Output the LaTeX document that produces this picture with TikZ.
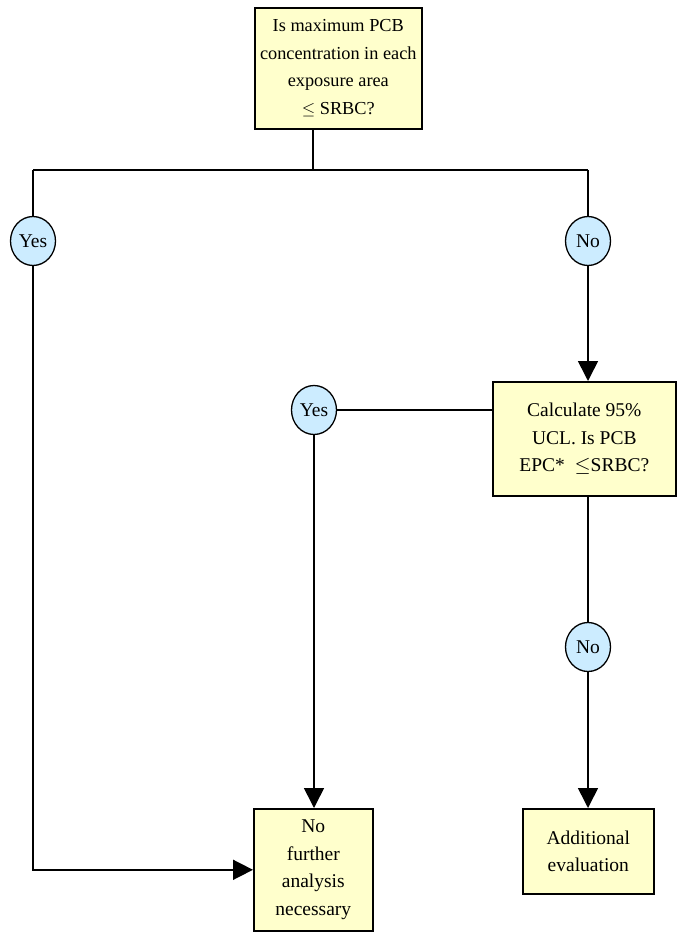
\documentclass[tikz,border=0pt]{standalone}
\usepackage{fontspec}
\setmainfont{Liberation Serif}
\usetikzlibrary{arrows.meta,shapes.geometric}
\definecolor{boxfill}{HTML}{FFFFCC}
\definecolor{circfill}{HTML}{CCECFF}
\begin{document}
\begin{tikzpicture}[x=1pt,y=-1pt,
  font=\fontsize{19.5}{27.5}\selectfont,
  line width=1.6pt,
  dbox/.style={draw, fill=boxfill, inner sep=0pt, align=center, anchor=north west},
  ans/.style={draw, fill=circfill, ellipse, inner sep=0pt, minimum width=45pt, minimum height=49pt, line width=1.3pt},
  arr/.style={-{Triangle[width=20pt,length=20pt]}}
]
\useasboundingbox (0,0) rectangle (677,932);
\node[dbox, minimum width=167pt, minimum height=121pt, font=\fontsize{18.3}{27.5}\selectfont] (top) at (254,7) {Is maximum PCB\\concentration in each\\exposure area\\$\leq$ SRBC?};
\node[dbox, minimum width=183pt, minimum height=114pt] (calc) at (492,381) {Calculate 95\%\\UCL. Is PCB\\EPC*\ \ $\leq$SRBC?};
\node[dbox, minimum width=119pt, minimum height=122pt] (nf) at (253,808) {No\\further\\analysis\\necessary};
\node[dbox, minimum width=131pt, minimum height=85pt] (add) at (522,808) {Additional\\evaluation};
\coordinate (j) at (313,170);
\coordinate (jl) at (33,170);
\coordinate (jr) at (588,170);
\node[ans] (yes1) at (33,241) {Yes};
\node[ans] (no1) at (588,241) {No};
\node[ans] (yes2) at (314,410) {Yes};
\node[ans] (no2) at (588,647) {No};
\draw (top.south -| j) -- (j);
\draw (jl) -- (jr);
\draw (jl) -- (yes1);
\draw[arr] (yes1) |- (nf.west);
\draw (jr) -- (no1);
\draw[arr] (no1) -- (calc.north -| no1);
\draw (calc.west |- yes2) -- (yes2);
\draw[arr] (yes2) -- (nf.north -| yes2);
\draw (calc.south -| no2) -- (no2);
\draw[arr] (no2) -- (add.north -| no2);
\end{tikzpicture}
\end{document}
